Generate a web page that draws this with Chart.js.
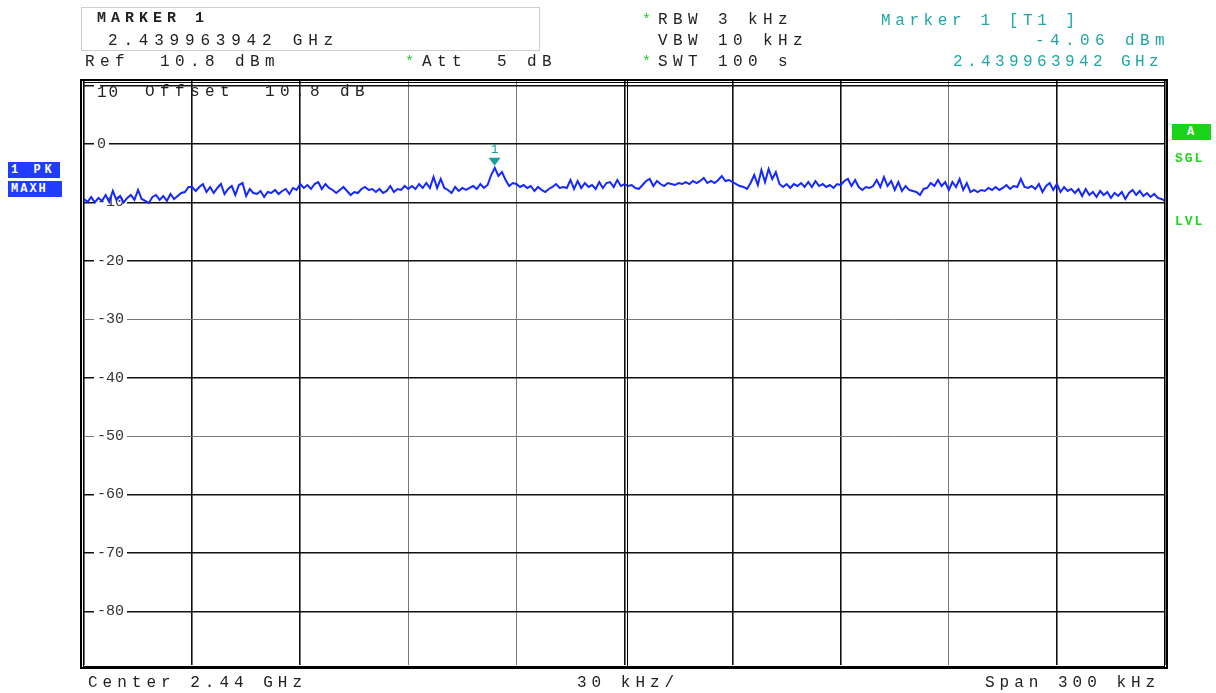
<!DOCTYPE html>
<html lang="en">
<head>
<meta charset="UTF-8">
<title>Spectrum 2.44 GHz</title>
<script src="https://cdn.jsdelivr.net/npm/chart.js"></script>
<style>
  body { margin: 0; background: #fff; }
  #wrap { position: relative; width: 1216px; height: 693px; overflow: hidden;
          font-family: 'Liberation Mono', 'DejaVu Sans Mono', monospace; color: #222; }
  #wrap canvas { position: absolute; left: 0; top: 0; }
  .t { position: absolute; font-size: 16px; line-height: 16px; letter-spacing: 5.4px; white-space: pre; }
  .teal { color: #1fa6a6; }
  .star { position: absolute; color: #1ccc1c; font-size: 15px; line-height: 15px; }
  .box { position: absolute; left: 81px; top: 7px; width: 457px; height: 42px; border: 1px solid #cfcfcf; }
  .badge { position: absolute; color: #fff; font-weight: bold; font-size: 12px; line-height: 16px;
           letter-spacing: 4px; white-space: pre; padding-left: 3px; box-sizing: border-box; }
  .blue { background: #1f3cff; }
  .green { color: #22d422; font-weight: bold; font-size: 13px; letter-spacing: 2px; }
</style>
</head>
<body>
<div id="wrap">
  <canvas id="spectrum" width="1216" height="693"></canvas>

  <div class="box"></div>
  <div class="t" style="left:97px;top:11px;font-size:15px;font-weight:bold;letter-spacing:5px;">MARKER 1</div>
  <div class="t" style="left:108px;top:33px;letter-spacing:5.8px;">2.439963942 GHz</div>
  <div class="t" style="left:85px;top:54px;">Ref  10.8 dBm</div>
  <div class="star" style="left:405px;top:55px;">*</div>
  <div class="t" style="left:422px;top:54px;">Att  5 dB</div>

  <div class="star" style="left:642px;top:13px;">*</div>
  <div class="t" style="left:658px;top:12px;">RBW 3 kHz</div>
  <div class="t" style="left:658px;top:33px;">VBW 10 kHz</div>
  <div class="star" style="left:642px;top:55px;">*</div>
  <div class="t" style="left:658px;top:54px;">SWT 100 s</div>

  <div class="t teal" style="left:881px;top:13px;letter-spacing:4.6px;">Marker 1 [T1 ]</div>
  <div class="t teal" style="left:1035px;top:33px;">-4.06 dBm</div>
  <div class="t teal" style="left:953px;top:54px;letter-spacing:4.4px;">2.439963942 GHz</div>

  <div class="t" style="left:97px;top:85px;letter-spacing:2px;">10</div>
  <div class="t" style="left:145px;top:84px;">Offset  10.8 dB</div>

  <div class="badge blue" style="left:8px;top:162px;width:52px;height:16px;">1 PK</div>
  <div class="badge blue" style="left:8px;top:181px;width:54px;height:16px;letter-spacing:2px;">MAXH</div>

  <div class="badge" style="left:1172px;top:124px;width:39px;height:16px;background:#19d419;text-align:center;padding-left:2px;">A</div>
  <div class="t green" style="left:1175px;top:151px;">SGL</div>
  <div class="t green" style="left:1175px;top:214px;">LVL</div>

  <div class="t" style="left:88px;top:675px;letter-spacing:5px;">Center 2.44 GHz</div>
  <div class="t" style="left:577px;top:675px;letter-spacing:5px;">30 kHz/</div>
  <div class="t" style="left:985px;top:675px;letter-spacing:5px;">Span 300 kHz</div>
</div>

<script>
  // sweep: -150 .. +150 kHz around 2.44 GHz, one bin per kHz (max hold trace)
  const startKHz = -150;
  const levelDbm = [
    // -150 .. -121
    -9.40, -9.91, -9.06, -10.0, -9.23, -9.74, -8.72, -9.91, -8.03, -9.57,
    -8.89, -10.0, -9.23, -8.72, -9.57, -7.86, -9.40, -9.74, -10.09, -9.06,
    -8.72, -9.57, -8.89, -9.74, -8.55, -9.40, -8.89, -8.38, -8.21, -7.35,
    // -120 .. -91
    -7.35, -8.03, -7.35, -6.84, -8.21, -7.35, -8.38, -7.52, -6.84, -8.55,
    -7.69, -7.18, -8.72, -7.01, -6.67, -8.89, -7.69, -8.38, -8.55, -8.03,
    -9.06, -8.21, -8.38, -7.86, -8.55, -8.03, -7.69, -8.55, -7.52, -7.86,
    // -90 .. -61
    -6.84, -7.52, -7.01, -7.69, -6.84, -6.50, -7.69, -6.84, -7.52, -7.86,
    -8.38, -7.86, -7.35, -8.03, -8.72, -8.21, -8.38, -7.69, -7.35, -7.86,
    -7.69, -8.21, -7.69, -8.38, -8.03, -7.18, -8.21, -7.69, -7.86, -7.18,
    // -60 .. -31
    -7.69, -7.18, -7.69, -6.84, -7.52, -6.67, -7.52, -5.64, -7.52, -5.98,
    -7.52, -7.86, -8.38, -7.35, -8.03, -7.52, -7.86, -7.52, -7.18, -7.69,
    -6.84, -7.52, -7.01, -5.30, -4.06, -5.47, -4.80, -6.15, -7.18, -6.67,
    // -30 .. -1
    -6.84, -7.35, -7.01, -7.52, -7.18, -8.03, -7.35, -7.86, -8.21, -7.69,
    -7.35, -6.84, -7.52, -7.35, -7.52, -6.15, -7.69, -6.32, -7.52, -6.67,
    -7.35, -7.01, -7.69, -6.50, -7.52, -6.67, -6.50, -7.35, -6.15, -7.18,
    // 0 .. 29
    -6.84, -7.18, -7.01, -7.52, -7.69, -7.01, -6.32, -5.98, -7.18, -6.32,
    -6.84, -7.18, -6.67, -6.84, -7.01, -6.67, -6.84, -6.50, -6.84, -6.32,
    -6.67, -6.32, -5.81, -6.67, -6.32, -6.67, -6.15, -5.47, -6.32, -6.15,
    // 30 .. 59
    -6.50, -6.84, -7.18, -7.35, -7.69, -6.67, -5.30, -7.01, -4.44, -6.50,
    -4.27, -5.98, -4.80, -6.84, -7.35, -6.84, -7.52, -6.84, -7.18, -6.67,
    -7.35, -6.50, -7.35, -6.32, -7.18, -6.84, -7.35, -7.01, -7.52, -6.84,
    // 60 .. 89
    -7.01, -6.32, -5.98, -7.18, -6.15, -7.35, -7.86, -7.35, -7.52, -7.18,
    -6.15, -7.35, -5.64, -7.18, -6.32, -7.86, -6.50, -8.03, -7.18, -7.86,
    -8.03, -8.21, -8.72, -7.69, -7.52, -6.67, -7.18, -6.15, -7.18, -6.50,
    // 90 .. 119
    -7.86, -6.50, -7.35, -5.98, -7.86, -6.67, -8.21, -7.86, -8.21, -7.86,
    -8.03, -7.52, -7.86, -7.35, -7.86, -7.52, -7.01, -7.69, -7.18, -7.35,
    -5.98, -7.35, -7.52, -7.18, -7.69, -6.84, -8.21, -7.18, -6.67, -7.86,
    // 120 .. 150
    -6.84, -8.21, -7.35, -8.03, -7.69, -8.38, -7.69, -8.89, -7.69, -8.72,
    -8.21, -9.06, -8.03, -8.72, -8.21, -9.23, -8.38, -8.89, -8.21, -9.40,
    -8.38, -7.86, -8.72, -8.03, -8.89, -8.38, -9.06, -8.55, -9.23, -9.40,
    -9.74
  ];

  const xGridKHz = [-150, -120, -90, -60, -30, 0, 30, 60, 90, 120, 150];
  const xGridFaint = [-60, -30, 90];
  const yGridDb = [10, 0, -10, -20, -30, -40, -50, -60, -70, -80];
  const yGridFaint = [-30, -50];
  const refLevel = 10.8;
  const bottomLevel = -89.2;

  const markerKHz = [-36.058];
  const markerDbm = [-4.06];
  const markerName = ['1'];

  const points = levelDbm.map((v, i) => ({ x: startKHz + i, y: v }));

  const frame = {
    id: 'frame',
    afterDraw(chart) {
      const { ctx, chartArea: a, scales } = chart;
      ctx.save();
      ctx.strokeStyle = '#000';
      // double frame
      ctx.lineWidth = 2;
      ctx.strokeRect(a.left - 3, a.top - 1, a.right - a.left + 5, a.bottom - a.top + 4);
      ctx.lineWidth = 1;
      ctx.strokeRect(a.left - 0.5, a.top + 1.5, a.right - a.left, a.bottom - a.top);
      // centre line is doubled
      const cx = Math.round(scales.x.getPixelForValue(0)) + 2.5;
      ctx.beginPath();
      ctx.moveTo(cx, a.top);
      ctx.lineTo(cx, a.bottom + 2);
      ctx.stroke();
      // marker
      markerKHz.forEach((f, i) => {
        const px = scales.x.getPixelForValue(f);
        const py = scales.y.getPixelForValue(markerDbm[i]);
        ctx.fillStyle = '#1a9e9e';
        ctx.beginPath();
        ctx.moveTo(px - 6, py - 10);
        ctx.lineTo(px + 6, py - 10);
        ctx.lineTo(px, py - 2);
        ctx.closePath();
        ctx.fill();
        ctx.font = '13px "Liberation Mono"';
        ctx.textAlign = 'center';
        ctx.textBaseline = 'alphabetic';
        ctx.fillText(markerName[i], px, py - 15);
      });
      ctx.restore();
    }
  };

  new Chart(document.getElementById('spectrum'), {
    type: 'line',
    data: {
      datasets: [{
        data: points,
        borderColor: '#1428ff',
        borderWidth: 2,
        pointRadius: 0,
        tension: 0,
        fill: false
      }]
    },
    options: {
      responsive: false,
      animation: false,
      layout: { padding: { left: 84, right: 51, top: 81, bottom: 28 } },
      plugins: { legend: { display: false }, tooltip: { enabled: false } },
      scales: {
        x: {
          type: 'linear',
          min: -150,
          max: 150,
          afterBuildTicks: axis => { axis.ticks = xGridKHz.map(v => ({ value: v })); },
          afterFit: axis => { axis.height = 0; },
          ticks: { display: false },
          border: { display: false },
          grid: {
            drawTicks: false,
            color: c => xGridFaint.includes(c.tick.value) ? '#777' : '#111',
            lineWidth: c => xGridFaint.includes(c.tick.value) ? 1 : 1.6
          }
        },
        y: {
          min: bottomLevel,
          max: refLevel,
          afterBuildTicks: axis => { axis.ticks = yGridDb.map(v => ({ value: v })); },
          afterFit: axis => { axis.width = 0; },
          border: { display: false },
          ticks: {
            mirror: true,
            padding: 13,
            color: '#333',
            font: { family: 'Liberation Mono', size: 15 },
            showLabelBackdrop: true,
            backdropColor: '#fff',
            backdropPadding: { left: 3, right: 3, top: 0, bottom: 0 },
            callback: v => (v === 10 ? '' : String(v))
          },
          grid: {
            drawTicks: false,
            color: c => yGridFaint.includes(c.tick.value) ? '#777' : '#111',
            lineWidth: c => yGridFaint.includes(c.tick.value) ? 1 : 1.4
          }
        }
      }
    },
    plugins: [frame]
  });
</script>
</body>
</html>
